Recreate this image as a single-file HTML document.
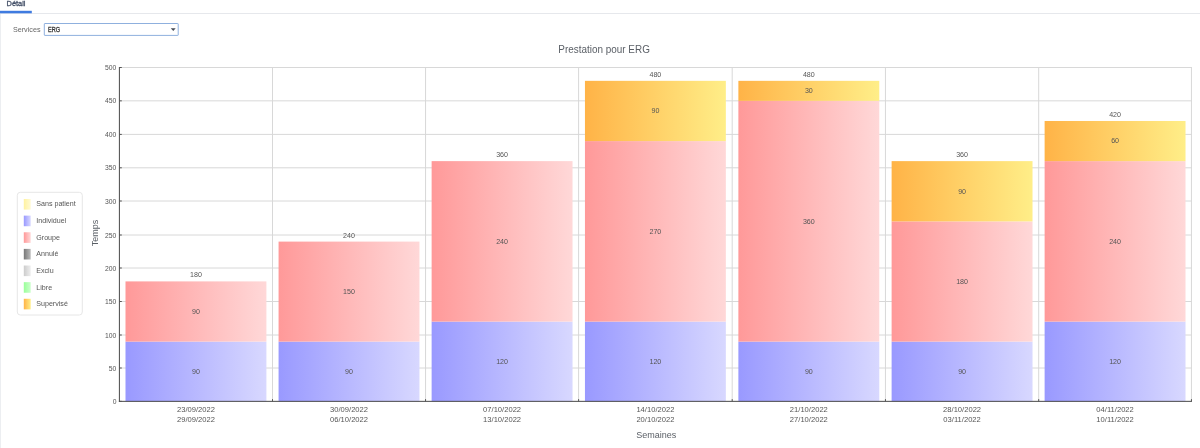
<!DOCTYPE html>
<html><head><meta charset="utf-8"><title>Prestation pour ERG</title>
<style>
html,body{margin:0;padding:0;background:#fff;}
body{width:1200px;height:448px;position:relative;overflow:hidden;font-family:"Liberation Sans",sans-serif;}
svg{position:absolute;left:0;top:0;font-family:"Liberation Sans",sans-serif;will-change:transform;}
</style></head><body>
<svg width="1200" height="448" viewBox="0 0 1200 448">
<defs>
<linearGradient id="gb"><stop offset="0" stop-color="#9999ff"/><stop offset="1" stop-color="#d8d8ff"/></linearGradient>
<linearGradient id="gr"><stop offset="0" stop-color="#ff9999"/><stop offset="1" stop-color="#ffd8d8"/></linearGradient>
<linearGradient id="go"><stop offset="0" stop-color="#ffb347"/><stop offset="1" stop-color="#ffee88"/></linearGradient>
<linearGradient id="gy"><stop offset="0" stop-color="#fff2a0"/><stop offset="1" stop-color="#fffad4"/></linearGradient>
<linearGradient id="gk"><stop offset="0" stop-color="#777777"/><stop offset="1" stop-color="#bbbbbb"/></linearGradient>
<linearGradient id="ge"><stop offset="0" stop-color="#cccccc"/><stop offset="1" stop-color="#eeeeee"/></linearGradient>
<linearGradient id="gl"><stop offset="0" stop-color="#99ff99"/><stop offset="1" stop-color="#ccffcc"/></linearGradient>
</defs>
<rect x="0" y="13" width="1200" height="1" fill="#e6e8ec"/>
<rect x="0" y="10.8" width="31.8" height="2.5" fill="#3f7be0"/>
<rect x="0" y="14" width="1" height="434" fill="#eceef1"/>
<text transform="translate(16.05,6) scale(1.000,1)" font-size="7.40" text-anchor="middle" fill="#445068" stroke="#445068" stroke-width="0.30">Détail</text>
<text transform="translate(26.70,32) scale(1.000,1)" font-size="7.20" text-anchor="middle" fill="#666">Services</text>
<rect x="44.3" y="23.5" width="133.9" height="11.9" rx="0.4" fill="#fff" stroke="#8fb0de" stroke-width="1"/>
<text transform="translate(54.00,32) scale(0.770,1)" font-size="7.20" text-anchor="middle" fill="#333" stroke="#333" stroke-width="0.30">ERG</text>
<path d="M170.8 28.3h4.9l-2.45 2.8z" fill="#444a55"/>
<text transform="translate(604.10,53) scale(0.984,1)" font-size="10.10" text-anchor="middle" fill="#5a5f66">Prestation pour ERG</text>
<g stroke="#d8d8d8" stroke-width="1" fill="none">
<path d="M119.40 368.00H1191.95"/>
<path d="M119.40 335.00H1191.95"/>
<path d="M119.40 301.50H1191.95"/>
<path d="M119.40 268.00H1191.95"/>
<path d="M119.40 235.00H1191.95"/>
<path d="M119.40 201.00H1191.95"/>
<path d="M119.40 167.80H1191.95"/>
<path d="M119.40 134.40H1191.95"/>
<path d="M119.40 100.85H1191.95"/>
<path d="M119.40 67.50H1191.95"/>
<path d="M272.50 67.00V401.35"/>
<path d="M425.55 67.00V401.35"/>
<path d="M578.60 67.00V401.35"/>
<path d="M732.20 67.00V401.35"/>
<path d="M885.45 67.00V401.35"/>
<path d="M1038.70 67.00V401.35"/>
<path d="M1191.45 67.00V401.35"/>
</g>
<rect x="125.50" y="341.60" width="140.90" height="59.75" fill="url(#gb)"/>
<rect x="125.50" y="281.40" width="140.90" height="60.20" fill="url(#gr)"/>
<rect x="278.57" y="341.60" width="140.90" height="59.75" fill="url(#gb)"/>
<rect x="278.57" y="241.60" width="140.90" height="100.00" fill="url(#gr)"/>
<rect x="431.63" y="321.60" width="140.90" height="79.75" fill="url(#gb)"/>
<rect x="431.63" y="161.12" width="140.90" height="160.48" fill="url(#gr)"/>
<rect x="584.95" y="321.60" width="140.90" height="79.75" fill="url(#gb)"/>
<rect x="584.95" y="141.08" width="140.90" height="180.52" fill="url(#gr)"/>
<rect x="584.95" y="80.84" width="140.90" height="60.24" fill="url(#go)"/>
<rect x="738.38" y="341.60" width="140.90" height="59.75" fill="url(#gb)"/>
<rect x="738.38" y="100.85" width="140.90" height="240.75" fill="url(#gr)"/>
<rect x="738.38" y="80.84" width="140.90" height="20.01" fill="url(#go)"/>
<rect x="891.62" y="341.60" width="140.90" height="59.75" fill="url(#gb)"/>
<rect x="891.62" y="221.40" width="140.90" height="120.20" fill="url(#gr)"/>
<rect x="891.62" y="161.12" width="140.90" height="60.28" fill="url(#go)"/>
<rect x="1044.62" y="321.60" width="140.90" height="79.75" fill="url(#gb)"/>
<rect x="1044.62" y="161.12" width="140.90" height="160.48" fill="url(#gr)"/>
<rect x="1044.62" y="120.98" width="140.90" height="40.14" fill="url(#go)"/>
<g stroke="#484848" stroke-width="1" fill="none">
<path d="M119.40 67.00V401.85"/>
<path d="M118.90 401.35H1191.95"/>
</g>
<g stroke="#555" stroke-width="1" fill="none">
<path d="M119.40 401.35h2.4"/>
<path d="M119.40 368.00h2.4"/>
<path d="M119.40 335.00h2.4"/>
<path d="M119.40 301.50h2.4"/>
<path d="M119.40 268.00h2.4"/>
<path d="M119.40 235.00h2.4"/>
<path d="M119.40 201.00h2.4"/>
<path d="M119.40 167.80h2.4"/>
<path d="M119.40 134.40h2.4"/>
<path d="M119.40 100.85h2.4"/>
<path d="M119.40 67.50h2.4"/>
<path d="M272.50 401.35v-2.2"/>
<path d="M425.55 401.35v-2.2"/>
<path d="M578.60 401.35v-2.2"/>
<path d="M732.20 401.35v-2.2"/>
<path d="M885.45 401.35v-2.2"/>
<path d="M1038.70 401.35v-2.2"/>
<path d="M1191.45 401.35v-2.2"/>
</g>
<text transform="translate(116.40,404) scale(0.860,1)" font-size="7.90" text-anchor="end" fill="#555555">0</text>
<text transform="translate(116.40,371) scale(0.860,1)" font-size="7.90" text-anchor="end" fill="#555555">50</text>
<text transform="translate(116.40,338) scale(0.860,1)" font-size="7.90" text-anchor="end" fill="#555555">100</text>
<text transform="translate(116.40,304) scale(0.860,1)" font-size="7.90" text-anchor="end" fill="#555555">150</text>
<text transform="translate(116.40,271) scale(0.860,1)" font-size="7.90" text-anchor="end" fill="#555555">200</text>
<text transform="translate(116.40,238) scale(0.860,1)" font-size="7.90" text-anchor="end" fill="#555555">250</text>
<text transform="translate(116.40,204) scale(0.860,1)" font-size="7.90" text-anchor="end" fill="#555555">300</text>
<text transform="translate(116.40,170) scale(0.860,1)" font-size="7.90" text-anchor="end" fill="#555555">350</text>
<text transform="translate(116.40,137) scale(0.860,1)" font-size="7.90" text-anchor="end" fill="#555555">400</text>
<text transform="translate(116.40,103) scale(0.860,1)" font-size="7.90" text-anchor="end" fill="#555555">450</text>
<text transform="translate(116.40,70) scale(0.860,1)" font-size="7.90" text-anchor="end" fill="#555555">500</text>
<text transform="translate(195.95,374) scale(1.000,1)" font-size="7.10" text-anchor="middle" fill="#555555">90</text>
<text transform="translate(195.95,314) scale(1.000,1)" font-size="7.10" text-anchor="middle" fill="#555555">90</text>
<text transform="translate(195.95,277) scale(1.000,1)" font-size="7.10" text-anchor="middle" fill="#555555">180</text>
<text transform="translate(195.95,412) scale(0.950,1)" font-size="8.00" text-anchor="middle" fill="#555555">23/09/2022</text>
<text transform="translate(195.95,422) scale(0.950,1)" font-size="8.00" text-anchor="middle" fill="#555555">29/09/2022</text>
<text transform="translate(349.02,374) scale(1.000,1)" font-size="7.10" text-anchor="middle" fill="#555555">90</text>
<text transform="translate(349.02,294) scale(1.000,1)" font-size="7.10" text-anchor="middle" fill="#555555">150</text>
<text transform="translate(349.02,238) scale(1.000,1)" font-size="7.10" text-anchor="middle" fill="#555555">240</text>
<text transform="translate(349.02,412) scale(0.950,1)" font-size="8.00" text-anchor="middle" fill="#555555">30/09/2022</text>
<text transform="translate(349.02,422) scale(0.950,1)" font-size="8.00" text-anchor="middle" fill="#555555">06/10/2022</text>
<text transform="translate(502.08,364) scale(1.000,1)" font-size="7.10" text-anchor="middle" fill="#555555">120</text>
<text transform="translate(502.08,244) scale(1.000,1)" font-size="7.10" text-anchor="middle" fill="#555555">240</text>
<text transform="translate(502.08,157) scale(1.000,1)" font-size="7.10" text-anchor="middle" fill="#555555">360</text>
<text transform="translate(502.08,412) scale(0.950,1)" font-size="8.00" text-anchor="middle" fill="#555555">07/10/2022</text>
<text transform="translate(502.08,422) scale(0.950,1)" font-size="8.00" text-anchor="middle" fill="#555555">13/10/2022</text>
<text transform="translate(655.40,364) scale(1.000,1)" font-size="7.10" text-anchor="middle" fill="#555555">120</text>
<text transform="translate(655.40,234) scale(1.000,1)" font-size="7.10" text-anchor="middle" fill="#555555">270</text>
<text transform="translate(655.40,113) scale(1.000,1)" font-size="7.10" text-anchor="middle" fill="#555555">90</text>
<text transform="translate(655.40,77) scale(1.000,1)" font-size="7.10" text-anchor="middle" fill="#555555">480</text>
<text transform="translate(655.40,412) scale(0.950,1)" font-size="8.00" text-anchor="middle" fill="#555555">14/10/2022</text>
<text transform="translate(655.40,422) scale(0.950,1)" font-size="8.00" text-anchor="middle" fill="#555555">20/10/2022</text>
<text transform="translate(808.83,374) scale(1.000,1)" font-size="7.10" text-anchor="middle" fill="#555555">90</text>
<text transform="translate(808.83,224) scale(1.000,1)" font-size="7.10" text-anchor="middle" fill="#555555">360</text>
<text transform="translate(808.83,93) scale(1.000,1)" font-size="7.10" text-anchor="middle" fill="#555555">30</text>
<text transform="translate(808.83,77) scale(1.000,1)" font-size="7.10" text-anchor="middle" fill="#555555">480</text>
<text transform="translate(808.83,412) scale(0.950,1)" font-size="8.00" text-anchor="middle" fill="#555555">21/10/2022</text>
<text transform="translate(808.83,422) scale(0.950,1)" font-size="8.00" text-anchor="middle" fill="#555555">27/10/2022</text>
<text transform="translate(962.08,374) scale(1.000,1)" font-size="7.10" text-anchor="middle" fill="#555555">90</text>
<text transform="translate(962.08,284) scale(1.000,1)" font-size="7.10" text-anchor="middle" fill="#555555">180</text>
<text transform="translate(962.08,194) scale(1.000,1)" font-size="7.10" text-anchor="middle" fill="#555555">90</text>
<text transform="translate(962.08,157) scale(1.000,1)" font-size="7.10" text-anchor="middle" fill="#555555">360</text>
<text transform="translate(962.08,412) scale(0.950,1)" font-size="8.00" text-anchor="middle" fill="#555555">28/10/2022</text>
<text transform="translate(962.08,422) scale(0.950,1)" font-size="8.00" text-anchor="middle" fill="#555555">03/11/2022</text>
<text transform="translate(1115.08,364) scale(1.000,1)" font-size="7.10" text-anchor="middle" fill="#555555">120</text>
<text transform="translate(1115.08,244) scale(1.000,1)" font-size="7.10" text-anchor="middle" fill="#555555">240</text>
<text transform="translate(1115.08,143) scale(1.000,1)" font-size="7.10" text-anchor="middle" fill="#555555">60</text>
<text transform="translate(1115.08,117) scale(1.000,1)" font-size="7.10" text-anchor="middle" fill="#555555">420</text>
<text transform="translate(1115.08,412) scale(0.950,1)" font-size="8.00" text-anchor="middle" fill="#555555">04/11/2022</text>
<text transform="translate(1115.08,422) scale(0.950,1)" font-size="8.00" text-anchor="middle" fill="#555555">10/11/2022</text>
<text transform="translate(656.30,438) scale(1.000,1)" font-size="9.00" text-anchor="middle" fill="#5a5f66">Semaines</text>
<text transform="translate(97.8,233) rotate(-90)" font-size="9" text-anchor="middle" fill="#5a5f66">Temps</text>
<rect x="17.3" y="192.3" width="65" height="122.7" rx="3" fill="#fff" stroke="#e6e6e6" stroke-width="1"/>
<rect x="23.8" y="199.00" width="6.9" height="10.6" fill="url(#gy)"/>
<text transform="translate(36.30,206) scale(0.935,1)" font-size="7.60" text-anchor="start" fill="#555">Sans patient</text>
<rect x="23.8" y="215.63" width="6.9" height="10.6" fill="url(#gb)"/>
<text transform="translate(36.30,223) scale(0.935,1)" font-size="7.60" text-anchor="start" fill="#555">Individuel</text>
<rect x="23.8" y="232.26" width="6.9" height="10.6" fill="url(#gr)"/>
<text transform="translate(36.30,240) scale(0.935,1)" font-size="7.60" text-anchor="start" fill="#555">Groupe</text>
<rect x="23.8" y="248.89" width="6.9" height="10.6" fill="url(#gk)"/>
<text transform="translate(36.30,256) scale(0.935,1)" font-size="7.60" text-anchor="start" fill="#555">Annulé</text>
<rect x="23.8" y="265.52" width="6.9" height="10.6" fill="url(#ge)"/>
<text transform="translate(36.30,273) scale(0.935,1)" font-size="7.60" text-anchor="start" fill="#555">Exclu</text>
<rect x="23.8" y="282.15" width="6.9" height="10.6" fill="url(#gl)"/>
<text transform="translate(36.30,290) scale(0.935,1)" font-size="7.60" text-anchor="start" fill="#555">Libre</text>
<rect x="23.8" y="298.78" width="6.9" height="10.6" fill="url(#go)"/>
<text transform="translate(36.30,306) scale(0.935,1)" font-size="7.60" text-anchor="start" fill="#555">Supervisé</text>
</svg>
</body></html>
